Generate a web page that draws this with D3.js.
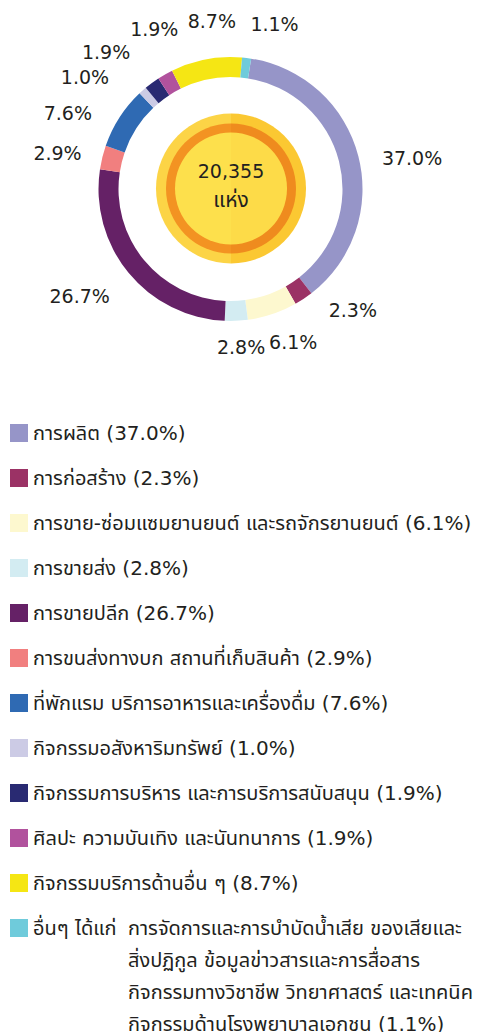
<!DOCTYPE html>
<html>
<head>
<meta charset="utf-8">
<script src="https://cdn.jsdelivr.net/npm/d3@7"></script>
<style>
  body { margin: 0; background: #fff; }
  text { font-family: "DejaVu Sans", "Noto Sans Thai", Tahoma, sans-serif; fill: #231f20; }
</style>
</head>
<body>
<script>
// ข้อมูลสัดส่วนสถานประกอบการ
const categories = [
  'การผลิต',
  'การก่อสร้าง',
  'การขาย-ซ่อมแซมยานยนต์ และรถจักรยานยนต์',
  'การขายส่ง',
  'การขายปลีก',
  'การขนส่งทางบก สถานที่เก็บสินค้า',
  'ที่พักแรม บริการอาหารและเครื่องดื่ม',
  'กิจกรรมอสังหาริมทรัพย์',
  'กิจกรรมการบริหาร และการบริการสนับสนุน',
  'ศิลปะ ความบันเทิง และนันทนาการ',
  'กิจกรรมบริการด้านอื่น ๆ',
  'อื่นๆ ได้แก่'
];
const values = [37.0, 2.3, 6.1, 2.8, 26.7, 2.9, 7.6, 1.0, 1.9, 1.9, 8.7, 1.1];
const colors = ['#9695c8', '#9b3265', '#fdf8cf', '#d3ecf2', '#652166', '#f17f7f',
                '#2f6ab3', '#cccbe5', '#292a72', '#b1529d', '#f5e614', '#6fcbdb'];
// รายละเอียดของกลุ่ม "อื่นๆ"
const otherLines = [
  'การจัดการและการบำบัดน้ำเสีย ของเสียและ',
  'สิ่งปฏิกูล ข้อมูลข่าวสารและการสื่อสาร',
  'กิจกรรมทางวิชาชีพ วิทยาศาสตร์ และเทคนิค',
  'กิจกรรมด้านโรงพยาบาลเอกชน'
];
const total = '20,355';
const unit = 'แห่ง';

// ขยับตำแหน่งป้ายให้ตรงกับต้นฉบับ
const labelNudge = [[15, 12], [27, -22], [8, -10], [3, -13], [-18, -2], [-6, 6],
                    [-18, 17], [-31, 17], [-22, 2], [9, -10], [13, 1], [23, 6]];

const W = 489, H = 1032;
const cx = 230.5, cy = 189;
const fmt = d3.format('.1f');

const svg = d3.select('body').append('svg')
  .attr('width', W)
  .attr('height', H);

const data = values.map((v, i) => ({ name: categories[i], value: v, color: colors[i], i: i }));

const offset = 9 * Math.PI / 180;
const pie = d3.pie()
  .value(d => d.value)
  .sort(null)
  .startAngle(offset)
  .endAngle(offset + 2 * Math.PI);

const arc = d3.arc().innerRadius(112).outerRadius(132);
const labelArc = d3.arc().innerRadius(172).outerRadius(172);

const g = svg.append('g').attr('transform', `translate(${cx},${cy})`);

g.selectAll('path.slice')
  .data(pie(data))
  .enter().append('path')
  .attr('class', 'slice')
  .attr('d', arc)
  .attr('fill', d => d.data.color);

// เหรียญตรงกลาง
const coin = svg.append('g').attr('transform', `translate(${cx + 0.5},${cy - 0.5})`);
const halves = [
  { a0: Math.PI, a1: 2 * Math.PI, outer: '#fcd446', ring: '#f39322', inner: '#fde04c' },
  { a0: 0, a1: Math.PI, outer: '#fbc832', ring: '#ef8b1e', inner: '#fddb48' }
];
halves.forEach(h => {
  coin.append('path')
    .attr('d', d3.arc().innerRadius(0).outerRadius(75).startAngle(h.a0).endAngle(h.a1)())
    .attr('fill', h.outer);
  coin.append('path')
    .attr('d', d3.arc().innerRadius(0).outerRadius(65).startAngle(h.a0).endAngle(h.a1)())
    .attr('fill', h.ring);
  coin.append('path')
    .attr('d', d3.arc().innerRadius(0).outerRadius(56).startAngle(h.a0).endAngle(h.a1)())
    .attr('fill', h.inner);
});
coin.append('text')
  .attr('text-anchor', 'middle')
  .attr('y', -17)
  .attr('dy', '0.35em')
  .style('font-size', '19px')
  .text(total);
coin.append('text')
  .attr('text-anchor', 'middle')
  .attr('y', 11)
  .attr('dy', '0.35em')
  .style('font-size', '21px')
  .text(unit);

// ป้ายเปอร์เซ็นต์
g.selectAll('text.pct')
  .data(pie(data))
  .enter().append('text')
  .attr('class', 'pct')
  .attr('text-anchor', 'middle')
  .attr('dy', '0.35em')
  .attr('x', d => labelArc.centroid(d)[0] + labelNudge[d.index][0])
  .attr('y', d => labelArc.centroid(d)[1] + labelNudge[d.index][1])
  .style('font-size', '19px')
  .text(d => fmt(d.value) + '%');

// คำอธิบายสัญลักษณ์
const legendY = d3.scaleLinear().domain([0, categories.length - 1]).range([433, 928]);
const legend = svg.append('g');
const row = legend.selectAll('g.row')
  .data(data)
  .enter().append('g')
  .attr('class', 'row')
  .attr('transform', d => `translate(0,${legendY(d.i)})`);

row.append('rect')
  .attr('x', 10)
  .attr('y', -9)
  .attr('width', 18)
  .attr('height', 18)
  .attr('fill', d => d.color);

row.append('text')
  .attr('x', 33)
  .attr('dy', '0.35em')
  .style('font-size', '20px')
  .text(d => d.i === categories.length - 1 ? d.name : `${d.name} (${fmt(d.value)}%)`);

const last = data[data.length - 1];
legend.selectAll('text.other')
  .data(otherLines)
  .enter().append('text')
  .attr('class', 'other')
  .attr('x', 128)
  .attr('y', (d, i) => legendY(last.i) + i * 32)
  .attr('dy', '0.35em')
  .style('font-size', '20px')
  .text((d, i) => i === otherLines.length - 1 ? `${d} (${fmt(last.value)}%)` : d);
</script>
</body>
</html>
